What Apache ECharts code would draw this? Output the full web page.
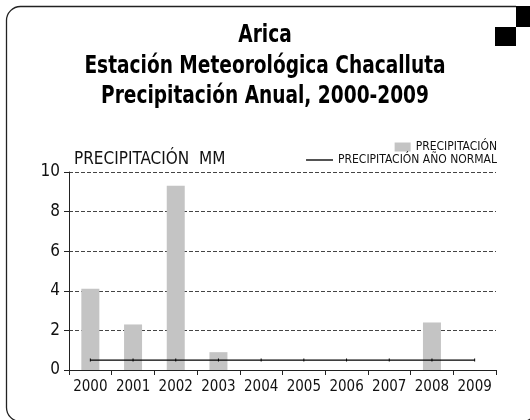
<!DOCTYPE html>
<html>
<head>
<meta charset="utf-8">
<script src="https://cdn.jsdelivr.net/npm/echarts@6/dist/echarts.min.js"></script>
<style>
  html, body { margin: 0; padding: 0; background: #fff; }
  #chart { width: 530px; height: 420px; }
</style>
</head>
<body>
<div id="chart"></div>
<script>
// Annual precipitation at Chacalluta station, Arica (mm)
const years = ['2000', '2001', '2002', '2003', '2004', '2005', '2006', '2007', '2008', '2009'];
const precipitation = [4.1, 2.3, 9.3, 0.9, 0, 0, 0, 0, 2.4, 0];
const normalYear = [0.5, 0.5, 0.5, 0.5, 0.5, 0.5, 0.5, 0.5, 0.5, 0.5];
const yTicks = [0, 10, 2]; // min, max, step

const titleLines = ['Arica', 'Estación Meteorológica Chacalluta', 'Precipitación Anual, 2000-2009'];
const seriesNames = ['PRECIPITACIÓN', 'PRECIPITACIÓN AÑO NORMAL'];
const yAxisName = 'PRECIPITACIÓN  MM';

const NARROW = '"DejaVu Sans Condensed", "Liberation Sans Narrow", sans-serif';

// Title lines: condensed bold, squeezed horizontally
const titleGraphics = titleLines.map((line, i) => ({
  type: 'text',
  x: 265,
  y: 36 + i * 30.5,
  scaleX: 0.86,
  silent: true,
  style: {
    text: line,
    x: 0,
    y: 0,
    align: 'center',
    verticalAlign: 'middle',
    font: 'bold 24px ' + NARROW,
    fill: '#000'
  }
}));

const chart = echarts.init(document.getElementById('chart'), null, { renderer: 'canvas' });

const legendText = { fontFamily: NARROW, fontSize: 12, color: '#111' };

chart.setOption({
  backgroundColor: '#fff',
  animation: false,
  legend: [
    {
      right: 28,
      top: 136,
      itemWidth: 16,
      itemHeight: 9,
      itemGap: 4,
      textStyle: legendText,
      data: [{ name: seriesNames[0], icon: 'rect' }]
    },
    {
      right: 28,
      top: 149,
      itemWidth: 27,
      itemHeight: 2,
      itemGap: 4,
      textStyle: legendText,
      data: [{ name: seriesNames[1], icon: 'path://M0,0 L28,0 L28,1.4 L0,1.4 Z', itemStyle: { color: '#000' } }]
    }
  ],
  grid: { left: 69, right: 34, top: 172, bottom: 50 },
  xAxis: {
    type: 'category',
    data: years,
    boundaryGap: true,
    axisLine: { lineStyle: { color: '#222', width: 1 } },
    axisTick: { show: true, length: 5, lineStyle: { color: '#222' } },
    axisLabel: { interval: 0, fontFamily: NARROW, fontSize: 15, color: '#111', margin: 10 }
  },
  yAxis: {
    type: 'value',
    min: yTicks[0],
    max: yTicks[1],
    interval: yTicks[2],
    name: yAxisName,
    nameLocation: 'end',
    nameGap: 4,
    nameTextStyle: { fontFamily: NARROW, fontSize: 17, color: '#111', align: 'left', padding: [0, 0, 0, 5] },
    axisLine: { show: true, lineStyle: { color: '#222', width: 1 } },
    axisTick: { show: true, length: 5, lineStyle: { color: '#222' } },
    axisLabel: { fontFamily: NARROW, fontSize: 17, color: '#111', margin: 9 },
    splitLine: { show: true, lineStyle: { color: '#444', type: [4, 2], width: 1 } }
  },
  series: [
    {
      name: seriesNames[0],
      type: 'bar',
      data: precipitation,
      barWidth: 18,
      itemStyle: { color: '#c4c4c4' }
    },
    {
      name: seriesNames[1],
      type: 'line',
      data: normalYear,
      symbol: 'rect',
      symbolSize: [1, 3],
      itemStyle: { color: '#000' },
      lineStyle: { color: '#000', width: 1.3 },
      z: 3
    }
  ],
  graphic: [
    {
      type: 'rect',
      shape: { x: 6.5, y: 6.5, width: 530, height: 415, r: 14 },
      style: { fill: null, stroke: '#222', lineWidth: 1.3 },
      silent: true
    },
    {
      type: 'rect',
      shape: { x: 516, y: 0, width: 14, height: 27 },
      style: { fill: '#fff' },
      silent: true
    },
    {
      type: 'rect',
      shape: { x: 516, y: 6, width: 14, height: 21 },
      style: { fill: '#000' },
      silent: true
    },
    {
      type: 'rect',
      shape: { x: 495, y: 27, width: 21, height: 19 },
      style: { fill: '#000' },
      silent: true
    }
  ].concat(titleGraphics)
});
</script>
</body>
</html>
